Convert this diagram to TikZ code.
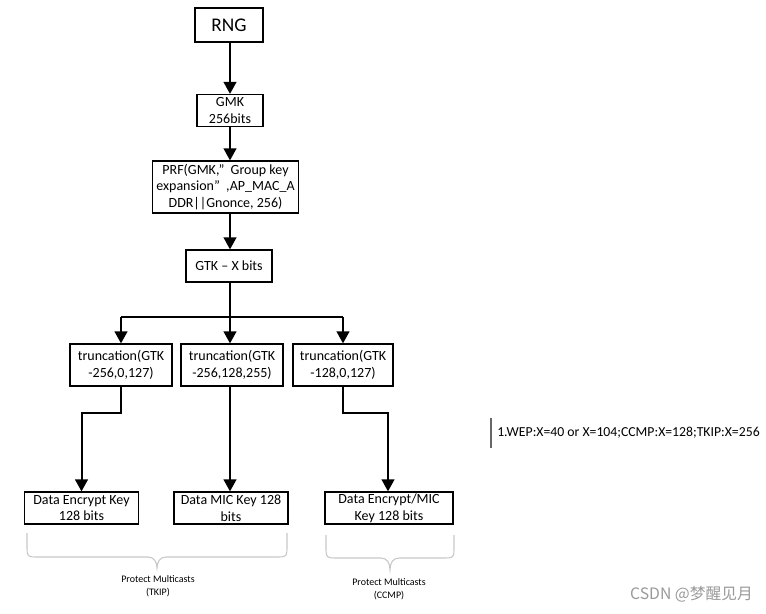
\documentclass[tikz,border=0pt]{standalone}
\usepackage{fontspec}
\setmainfont{Carlito}
\newfontfamily\cjk{Noto Sans CJK SC}
\usetikzlibrary{arrows.meta}
\begin{document}
\begin{tikzpicture}[x=0.75pt,y=-0.75pt,
  box/.style={draw=black,line width=0.9pt,fill=white,inner sep=0pt,align=center,font=\fontsize{10.5}{12.5}\selectfont},
  arr/.style={line width=1.5pt,-{Triangle[width=9.5pt,length=9pt]}},
  ln/.style={line width=1.5pt},
  brc/.style={draw=black!22,line width=0.8pt},
  small/.style={font=\fontsize{7.5}{9.5}\selectfont,align=center,inner sep=0pt}]
\useasboundingbox (0,0) rectangle (766,613);
% boxes
\node[box,minimum width=51pt,minimum height=25.5pt,font=\fontsize{14.5}{16}\selectfont] (rng) at (229,25) {RNG};
\node[box,minimum width=49.5pt,minimum height=24pt] (gmk) at (230,110.5) {GMK\\256bits};
\node[box,minimum width=110pt,minimum height=39pt] (prf) at (225.5,187) {PRF(GMK,”\ \ Group key\\expansion”\ \ ,AP\_MAC\_A\\DDR||Gnonce, 256)};
\node[box,minimum width=64.5pt,minimum height=24pt] (gtk) at (229,266) {GTK – X bits};
\node[box,minimum width=76.5pt,minimum height=31.5pt] (t1) at (121,365) {truncation(GTK\\-256,0,127)};
\node[box,minimum width=76.5pt,minimum height=31.5pt] (t2) at (232,365) {truncation(GTK\\-256,128,255)};
\node[box,minimum width=75pt,minimum height=31.5pt] (t3) at (343,365) {truncation(GTK\\-128,0,127)};
\node[box,minimum width=86pt,minimum height=24pt] (k1) at (81.5,508) {Data Encrypt Key\\128 bits};
\node[box,minimum width=85.5pt,minimum height=24pt] (k2) at (231,508) {Data MIC Key 128\\bits};
\node[box,minimum width=96pt,minimum height=24pt] (k3) at (389,508) {Data Encrypt/MIC\\Key 128 bits};
% connectors
\coordinate (a) at (230,0);
\draw[arr] (rng.south -| a) -- (gmk.north -| a);
\draw[arr] (gmk.south -| a) -- (prf.north -| a);
\draw[arr] (prf.south -| a) -- (gtk.north -| a);
\coordinate (j) at (230,317);
\draw[ln] (gtk.south -| a) -- (j);
\draw[ln] (j -| t1) -- (j -| t3);
\draw[arr] (j -| t1) -- (t1.north);
\draw[arr] (j) -- (t2.north -| a);
\draw[arr] (j -| t3) -- (t3.north);
\coordinate (b1) at (121,413);
\draw[arr] (t1.south) -- (b1) -| (k1.north);
\draw[arr] (t2.south -| a) -- (k2.north -| a);
\coordinate (b3) at (343,413);
\coordinate (c3) at (388,0);
\draw[arr] (t3.south) -- (b3) -| (c3 |- k3.north);
% braces
\draw[brc] (27,533) -- (27,545) .. controls (27,557) .. (39,557) -- (148,557)
  .. controls (154,557) and (157,562) .. (157,568)
  .. controls (157,562) and (160,557) .. (166,557) -- (275,557)
  .. controls (287,557) .. (287,545) -- (287,533);
\draw[brc] (326,535) -- (326,546) .. controls (326,558) .. (338,558) -- (381,558)
  .. controls (387,558) and (390,563) .. (390,570)
  .. controls (390,563) and (393,558) .. (399,558) -- (442,558)
  .. controls (454,558) .. (454,546) -- (454,535);
\node[small] (l1) at (158,586) {Protect Multicasts\\(TKIP)};
\node[small] (l2) at (389,589) {Protect Multicasts\\(CCMP)};
% note
\draw[draw=black!60,line width=1.5pt] (490.5,418) -- (490.5,448);
\node[anchor=west,inner sep=0pt,font=\fontsize{10.3}{12}\selectfont] (note) at (497,433) {1.WEP:X=40 or X=104;CCMP:X=128;TKIP:X=256};
% watermark
\node[anchor=east,inner sep=0pt,text=black!40,font=\cjk\fontsize{11.8}{13}\selectfont] (wm) at (753,594) {CSDN @梦醒见月};
\end{tikzpicture}
\end{document}
